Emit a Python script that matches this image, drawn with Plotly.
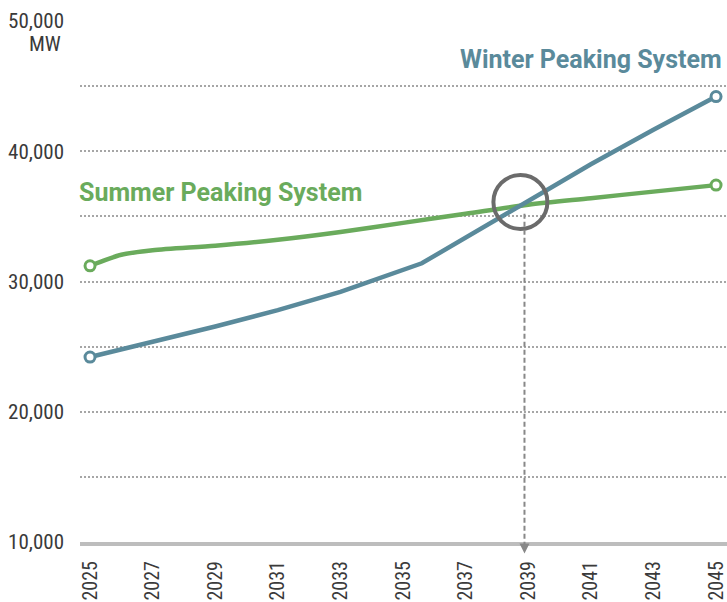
import plotly.graph_objects as go

# ---- data ----
summer_years = [2025, 2026, 2027, 2029, 2031, 2033, 2035, 2037, 2039, 2041, 2043, 2045]
summer_mw = [31200, 32050, 32400, 32750, 33200, 33800, 34500, 35200, 35900, 36400, 36900, 37400]

winter_years = [2025, 2027, 2029, 2031, 2033, 2035.6, 2037, 2039, 2041, 2043, 2045]
winter_mw = [24200, 25350, 26550, 27800, 29200, 31400, 33350, 36150, 39000, 41650, 44200]

y_tickvals = [10000, 15000, 20000, 25000, 30000, 35000, 40000, 45000, 50000]
y_ticktext = ["10,000", "", "20,000", "", "30,000", "", "40,000", "", "50,000"]
x_tickvals = list(range(2025, 2046, 2))

crossover_year = 2038.75
crossover_mw = 36100
arrow_year = 2038.88

summer_label = "Summer Peaking System"
winter_label = "Winter Peaking System"
unit_label = "MW"

# ---- styles ----
GREEN = "#6aab5c"
BLUE = "#5a8a9b"
FONT = "Liberation Sans Narrow, Roboto Condensed, Arial Narrow, Roboto, sans-serif"

fig = go.Figure()

fig.add_trace(go.Scatter(
    x=summer_years, y=summer_mw, mode="lines",
    line=dict(color=GREEN, width=4.5, shape="spline", smoothing=0.8),
    hoverinfo="skip", showlegend=False, cliponaxis=False))
fig.add_trace(go.Scatter(
    x=winter_years, y=winter_mw, mode="lines",
    line=dict(color=BLUE, width=4.5),
    hoverinfo="skip", showlegend=False, cliponaxis=False))

# endpoint markers
fig.add_trace(go.Scatter(
    x=[summer_years[0], summer_years[-1]], y=[summer_mw[0], summer_mw[-1]], mode="markers",
    marker=dict(symbol="circle", size=10, color="white", line=dict(color=GREEN, width=3)),
    hoverinfo="skip", showlegend=False, cliponaxis=False))
fig.add_trace(go.Scatter(
    x=[winter_years[0], winter_years[-1]], y=[winter_mw[0], winter_mw[-1]], mode="markers",
    marker=dict(symbol="circle", size=10, color="white", line=dict(color=BLUE, width=3)),
    hoverinfo="skip", showlegend=False, cliponaxis=False))

shapes = [
    # crossover circle
    dict(type="circle", xref="x", yref="y", xsizemode="pixel", ysizemode="pixel",
         xanchor=crossover_year, yanchor=crossover_mw, x0=-27, x1=27, y0=-27, y1=27,
         line=dict(color="#6b6b6b", width=4)),
    # dashed drop line
    dict(type="line", xref="x", yref="paper", x0=arrow_year, x1=arrow_year,
         y0=0.63, y1=-0.012, line=dict(color="#888888", width=2, dash="5px,3px")),
]

annotations = [
    dict(x=arrow_year, y=-0.022, xref="x", yref="paper", ax=0, ay=-8,
         showarrow=True, arrowhead=2, arrowsize=1, arrowwidth=2, arrowcolor="#888888", text=""),
    dict(xref="paper", yref="paper", x=0.996, y=(542 - 60) / 521, xanchor="right", yanchor="middle",
         text=f"<b>{winter_label}</b>", showarrow=False,
         font=dict(family="Roboto, sans-serif", size=25, color=BLUE)),
    dict(xref="paper", yref="paper", x=-0.004, y=(542 - 193) / 521, xanchor="left", yanchor="middle",
         text=f"<b>{summer_label}</b>", showarrow=False,
         font=dict(family="Roboto, sans-serif", size=25, color=GREEN)),
    dict(xref="paper", yref="paper", x=-17 / 647, y=(542 - 44) / 521, xanchor="right", yanchor="middle",
         text=unit_label, showarrow=False,
         font=dict(family=FONT, size=21, color="#3a3a3a")),
]

fig.update_layout(
    width=727, height=602,
    margin=dict(l=80, r=0, t=21, b=60),
    paper_bgcolor="white", plot_bgcolor="white",
    shapes=shapes, annotations=annotations,
    font=dict(family=FONT, size=21, color="#3a3a3a"),
    xaxis=dict(range=[2024.68, 2045.35], tickvals=x_tickvals, tickangle=-90, automargin=False,
               showgrid=False, zeroline=False, showline=True, linecolor="#bdbdbd", linewidth=4,
               ticks="", ticklabelstandoff=7, ticklabeloverflow="allow",
               tickfont=dict(family=FONT, size=20, color="#3a3a3a")),
    yaxis=dict(range=[10000, 50000], tickvals=y_tickvals, ticktext=y_ticktext, automargin=False,
               showgrid=True, gridcolor="#a6a6a6", gridwidth=2, griddash="2px,2px",
               zeroline=False, showline=False, ticks="", ticklabelstandoff=15,
               ticklabeloverflow="allow",
               tickfont=dict(family=FONT, size=21, color="#3a3a3a")),
)

fig.write_html("out.html", config={"displayModeBar": False},
               post_script="document.body.style.margin='0';document.body.style.overflow='hidden';")
